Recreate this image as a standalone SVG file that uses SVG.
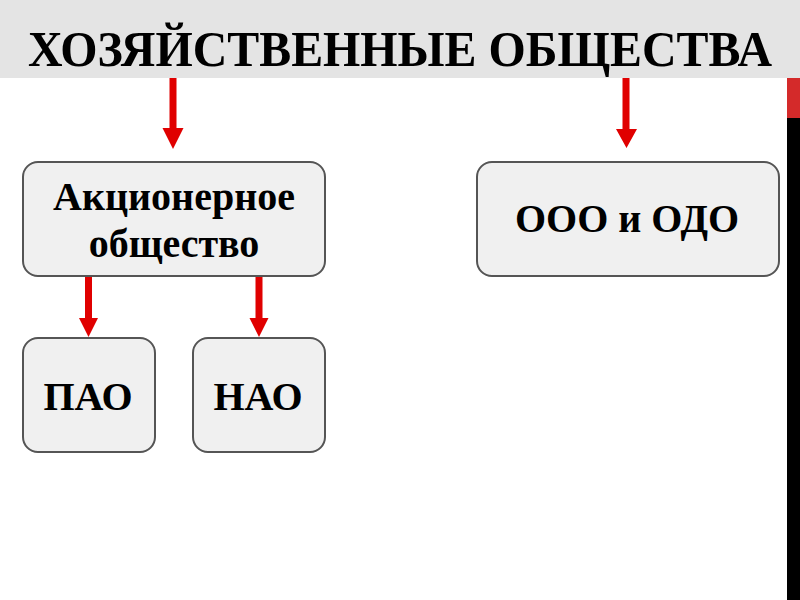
<svg xmlns="http://www.w3.org/2000/svg" width="800" height="600" viewBox="0 0 800 600">
<defs>
<style>
.box{fill:#f0f0f0;stroke:#555555;stroke-width:2}
.lbl{font-family:"Liberation Serif","Times New Roman",serif;font-weight:bold;font-size:40px;fill:#000;text-anchor:middle}
.arr{fill:#e00000}
</style>
</defs>
<rect x="0" y="0" width="800" height="600" fill="#ffffff"/>
<rect x="0" y="0" width="800" height="78" fill="#e4e4e4"/>
<rect x="787" y="78" width="13" height="40" fill="#d42a2a"/>
<rect x="787" y="118" width="13" height="482" fill="#000000"/>
<text x="400" y="66" font-family="'Liberation Serif','Times New Roman',serif" font-weight="bold" font-size="50" textLength="744" lengthAdjust="spacingAndGlyphs" text-anchor="middle" fill="#000">ХОЗЯЙСТВЕННЫЕ ОБЩЕСТВА</text>
<g id="connectors">
<path class="arr" d="M169.5,78 H176.5 V128 H183.5 L173,149 L162.5,128 H169.5 Z"/>
<path class="arr" d="M622.5,78 H629.5 V129 H637 L626.5,148 L616,129 H622.5 Z"/>
<path class="arr" d="M85,275 H92 V318 H98 L88.5,337 L79,318 H85 Z"/>
<path class="arr" d="M255.5,275 H262.5 V318 H268.5 L259,337 L249.5,318 H255.5 Z"/>
</g>
<g id="ao">
<rect class="box" x="23" y="162" width="302" height="114" rx="15"/>
<text class="lbl" x="174" y="210">Акционерное</text>
<text class="lbl" x="174" y="257">общество</text>
</g>
<g id="ooo">
<rect class="box" x="477" y="162" width="302" height="114" rx="15"/>
<text class="lbl" x="627" y="232">ООО и ОДО</text>
</g>
<g id="pao">
<rect class="box" x="23" y="338" width="132" height="114" rx="15"/>
<text class="lbl" x="88" y="410">ПАО</text>
</g>
<g id="nao">
<rect class="box" x="193" y="338" width="132" height="114" rx="15"/>
<text class="lbl" x="258" y="410">НАО</text>
</g>
</svg>
